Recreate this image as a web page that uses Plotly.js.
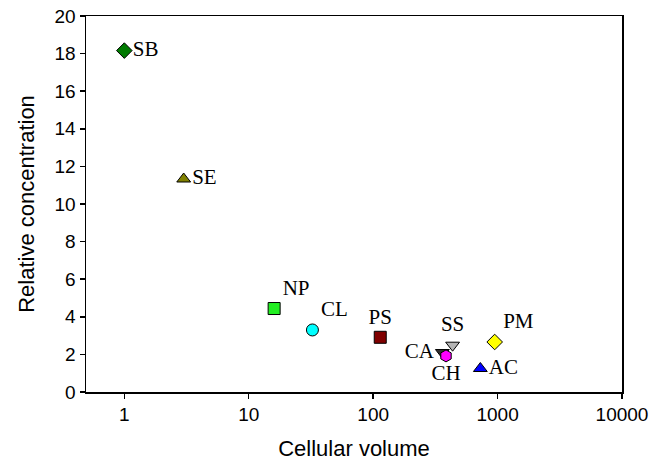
<!DOCTYPE html>
<html><head><meta charset="utf-8">
<script src="https://cdn.plot.ly/plotly-3.0.1.min.js"></script>
<style>body{margin:0;background:#fff}#c{width:652px;height:471px}</style>
</head><body><div id="c"></div>
<script>
var labels = ["SB","SE","NP","CL","PS","SS","CA","CH","AC","PM"];
var volume = [1.0, 3.0, 16, 32.5, 114, 435, 360, 385, 727, 948];
var concentration = [18.16, 11.33, 4.44, 3.30, 2.91, 2.49, 2.1, 1.92, 1.25, 2.66];
var symbols = ["diamond","triangle-up","square","circle","square","triangle-down","triangle-down","hexagon","triangle-up","diamond"];
var colors = ["#007a00","#808000","#22ee22","#00ffff","#800000","#b4b4b4","#303030","#ff00ff","#0000ff","#ffff00"];
var textPos = ["middle right","middle right","top right","top right","top center","top center","middle left","bottom center","middle right","top right"];

var trace = {
  x: volume, y: concentration, text: labels,
  mode: "markers+text", type: "scatter",
  textposition: textPos,
  textfont: {family: "Liberation Serif, serif", size: 21, color: "#000"},
  marker: {symbol: symbols, color: colors, size: 12, line: {color: "#000", width: 1}},
  cliponaxis: false, hoverinfo: "none"
};
var layout = {
  width: 652, height: 471,
  margin: {l: 86, r: 30, t: 16, b: 79},
  paper_bgcolor: "#fff", plot_bgcolor: "#fff",
  showlegend: false,
  font: {family: "Liberation Sans, Arial, sans-serif", color: "#000", size: 19},
  xaxis: {
    type: "log", range: [-0.308, 4],
    showgrid: false, zeroline: false,
    showline: true, linecolor: "#000", linewidth: 1.5, mirror: true,
    ticks: "outside", ticklen: 5, tickcolor: "#000", tickwidth: 1.5,
    tickvals: [1,10,100,1000,10000], ticktext: ["1","10","100","1000","10000"],
    tickfont: {size: 19},
    title: {text: "Cellular volume", font: {size: 22}, standoff: 16}
  },
  yaxis: {
    range: [0, 20], dtick: 2,
    showgrid: false, zeroline: false,
    showline: true, linecolor: "#000", linewidth: 1.5, mirror: true,
    ticks: "outside", ticklen: 5, tickcolor: "#000", tickwidth: 1.5,
    tickfont: {size: 19},
    title: {text: "Relative concentration", font: {size: 22}, standoff: 14}
  }
};
Plotly.newPlot("c", [trace], layout, {staticPlot: true});
</script></body></html>
